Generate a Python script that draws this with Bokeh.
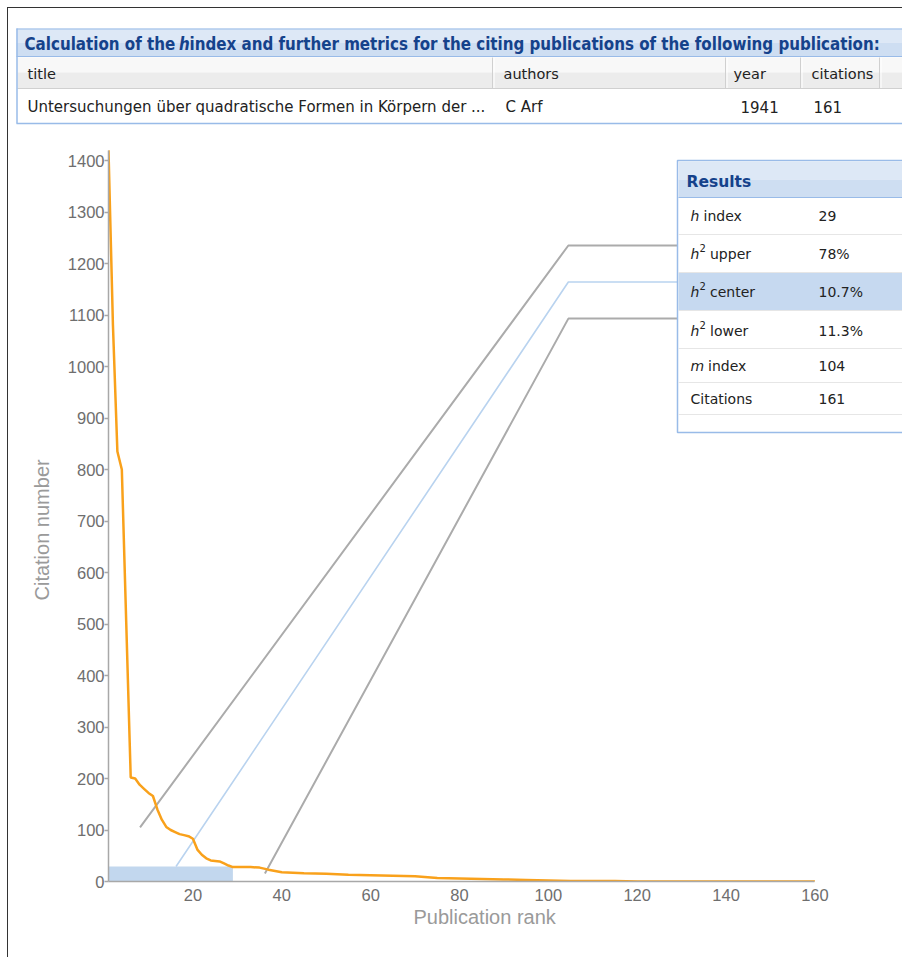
from bokeh.plotting import figure
from bokeh.models import Range1d, FixedTicker, Title, Div, LinearAxis
from bokeh.embed import file_html
from bokeh.resources import INLINE
from bokeh.core.properties import value

# ---------------- data ----------------
ranks = [1, 2, 3, 4, 5, 6, 7, 8, 9, 10, 11, 12, 13, 14, 15, 16, 17, 18, 19, 20,
         21, 22, 23, 24, 25, 26, 27, 28, 29, 30, 33, 35, 37, 40, 45, 50, 55, 60,
         65, 70, 75, 80, 85, 90, 95, 100, 105, 110, 115, 120, 125, 140, 160]
citations = [1420, 1080, 835, 800, 500, 202, 200, 188, 180, 172, 166, 140, 120, 106, 100, 96, 92, 90, 88, 83,
             62, 52, 45, 41, 40, 39, 35, 31, 28, 28, 28, 27, 23, 18, 16, 15, 13, 12,
             11, 10, 7, 6, 5, 4, 3, 2, 1, 1, 1, 0, 0, 0, 0]
h_index = 29

# connector lines (start on chart, corner, end at results panel)
conn_start_x = [8.1, 16.2, 36.2]
conn_start_y = [105, 29, 15.5]
conn_corner_x = [104.5, 104.5, 104.5]
conn_corner_y = [1235, 1164, 1093]
conn_end_x = [129, 129, 129]

x_ticks = [20, 40, 60, 80, 100, 120, 140, 160]
y_ticks = list(range(0, 1401, 100))

table_title_pre = "Calculation of the"
table_title_it = "h"
table_title_post = "index and further metrics for the citing publications of the following publication:"
table_columns = ["title", "authors", "year", "citations"]
pub_row = ["Untersuchungen über quadratische Formen in Körpern der ...", "C Arf", "1941", "161"]

result_italic = ["h", "h", "h", "h", "m", ""]
result_sup = ["", "2", "2", "2", "", ""]
result_rest = ["index", "upper", "center", "lower", "index", "Citations"]
result_values = ["29", "78%", "10.7%", "11.3%", "104", "161"]
highlight_row = 2

# ---------------- styles ----------------
FONT = value("Liberation Sans")
BODY = value("DejaVu Sans")
TF = value("DejaVu Sans Condensed")
BLUE_BORDER = "#99bbe8"
TITLE_BLUE = "#15428b"
ORANGE = "#f9a11b"
TXT = "#222222"

# ---------------- header table (page coordinates) ----------------
hdr = figure(width=902, height=130, x_range=Range1d(0, 902), y_range=Range1d(130, 0),
             toolbar_location=None, output_backend="svg", min_border=0,
             x_axis_location=None, y_axis_location=None, outline_line_color=None)
hdr.grid.visible = False

# title bar
hdr.quad(left=[16], right=[902], top=[28], bottom=[42], fill_color="#dde8f6", line_color=None)
hdr.quad(left=[16], right=[902], top=[42], bottom=[56], fill_color="#cedef2", line_color=None)
hdr.segment(x0=[16], y0=[28.5], x1=[902], y1=[28.5], line_color=BLUE_BORDER, line_width=1)
hdr.segment(x0=[16], y0=[56], x1=[902], y1=[56], line_color=BLUE_BORDER, line_width=1)
hdr.text(x=[24], y=[43], text=[table_title_pre], text_font=TF,
         text_font_style="bold", text_font_size="16.8px", text_color=TITLE_BLUE, text_baseline="middle")
hdr.text(x=[178.5], y=[43], text=[table_title_it], text_font=TF,
         text_font_style="bold italic", text_font_size="16.8px", text_color=TITLE_BLUE, text_baseline="middle")
hdr.text(x=[189], y=[43], text=[table_title_post], text_font=TF,
         text_font_style="bold", text_font_size="16.8px", text_color=TITLE_BLUE, text_baseline="middle")

# column header row
hdr.quad(left=[17], right=[902], top=[57], bottom=[72], fill_color="#f8f8f8", line_color=None)
hdr.quad(left=[17], right=[902], top=[72], bottom=[88], fill_color="#ececec", line_color=None)
sep_x = [492, 725, 800, 879]
hdr.segment(x0=sep_x, y0=[57] * 4, x1=sep_x, y1=[88] * 4, line_color="#d0d0d0", line_width=1)
hdr.segment(x0=[s + 1.5 for s in sep_x], y0=[57] * 4, x1=[s + 1.5 for s in sep_x], y1=[88] * 4,
            line_color="#ffffff", line_width=1)
hdr.segment(x0=[17], y0=[88], x1=[902], y1=[88], line_color="#d0d0d0", line_width=1)
col_x = [27, 503, 733, 811]
hdr.text(x=col_x, y=[73] * 4, text=table_columns, text_font=BODY, text_font_size="14.5px",
         text_color=TXT, text_baseline="middle")
row_x = [27, 505, 740, 813]
hdr.text(x=row_x, y=[106] * 4, text=pub_row, text_font=BODY, text_font_size="15px",
         text_color=TXT, text_baseline="middle")

# outer border
hdr.segment(x0=[16.5], y0=[28], x1=[16.5], y1=[123], line_color=BLUE_BORDER, line_width=1.5)
hdr.segment(x0=[16], y0=[123], x1=[902], y1=[123], line_color=BLUE_BORDER, line_width=1.5)

# ---------------- main chart ----------------
PX_PER_RANK = 4.443
PX_PER_CIT = 0.515
p = figure(width=902, height=832,
           x_range=Range1d(1, 1 + 794 / PX_PER_RANK), y_range=Range1d(0, 743 / PX_PER_CIT),
           min_border_left=108, min_border_right=0, min_border_top=8, min_border_bottom=81,
           toolbar_location=None, output_backend="svg", outline_line_color=None)
p.extra_x_ranges = {"page": Range1d(108, 902)}
p.extra_y_ranges = {"page": Range1d(881, 138)}
p.grid.visible = False

p.xaxis.ticker = FixedTicker(ticks=x_ticks)
p.yaxis.ticker = FixedTicker(ticks=y_ticks)
p.xaxis.bounds = (1, 160)
p.yaxis.bounds = (0, 1420)
for ax in (p.xaxis, p.yaxis):
    ax.axis_line_color = "#a8a8a8"
    ax.axis_line_width = 1.5
    ax.major_tick_line_color = "#a8a8a8"
    ax.major_tick_line_width = 1.5
    ax.minor_tick_line_color = None
    ax.major_tick_in = 0
    ax.major_label_text_font = "Liberation Sans"
    ax.major_label_text_font_size = "16.5px"
    ax.major_label_text_color = "#6e6e6e"
p.xaxis.major_tick_out = 0
p.yaxis.major_tick_out = 4
p.xaxis.major_label_standoff = 7
p.yaxis.major_label_standoff = 0

# empty spacer axis (no ticks, no line) to push the x title down
spacer = LinearAxis(ticker=FixedTicker(ticks=[]), axis_line_color=None,
                    major_tick_line_color=None, minor_tick_line_color=None,
                    major_tick_out=26, major_tick_in=0, minor_tick_out=0, minor_tick_in=0,
                    major_label_standoff=0)
p.add_layout(spacer, "below")

# axis titles
xt = Title(text="Publication rank", align="left", offset=305, standoff=0,
           text_font="Liberation Sans", text_font_size="20px", text_font_style="normal",
           text_color="#9a9a9a")
p.add_layout(xt, "below")
yt = Title(text="Citation number", align="left", offset=281, standoff=24,
           text_font="Liberation Sans", text_font_size="20px", text_font_style="normal",
           text_color="#9a9a9a")
p.add_layout(yt, "left")

# h index square
p.quad(left=[ranks[0]], right=[h_index], bottom=[0], top=[h_index],
       fill_color="#c2d7ee", line_color=None)

# connector lines
xs = [[conn_start_x[i], conn_corner_x[i], conn_end_x[i]] for i in range(3)]
ys = [[conn_start_y[i], conn_corner_y[i], conn_corner_y[i]] for i in range(3)]
p.multi_line(xs=xs, ys=ys, line_color=["#ababab", "#b9d3ef", "#ababab"],
             line_width=[2, 1.6, 2])

# citation curve
p.line(ranks, citations, line_color=ORANGE, line_width=2.5)

# ---------------- results panel (page coordinates) ----------------
R = dict(x_range_name="page", y_range_name="page")
p.quad(left=[677], right=[910], top=[160], bottom=[432], fill_color="#ffffff",
       line_color=BLUE_BORDER, line_width=1.5, **R)
p.quad(left=[678], right=[910], top=[161], bottom=[179], fill_color="#dde8f6", line_color=None, **R)
p.quad(left=[678], right=[910], top=[179], bottom=[197], fill_color="#cedef2", line_color=None, **R)
p.segment(x0=[678], y0=[197], x1=[910], y1=[197], line_color=BLUE_BORDER, line_width=1, **R)
p.text(x=[686], y=[181], text=["Results"], text_font=BODY, text_font_style="bold",
       text_font_size="15.5px", text_color=TITLE_BLUE, text_baseline="middle", **R)

row_centers = [215, 253, 291, 330, 365, 398]
row_edges = [234, 272, 310, 348, 382, 414]
hl_top = row_edges[highlight_row - 1]
hl_bot = row_edges[highlight_row]
p.quad(left=[678], right=[910], top=[hl_top], bottom=[hl_bot], fill_color="#c6d9f0",
       line_color=None, **R)
p.segment(x0=[678] * len(row_edges), y0=row_edges, x1=[910] * len(row_edges), y1=row_edges,
          line_color="#e6e6e6", line_width=1, **R)

ital_x, ital_y, ital_t = [], [], []
sup_x, sup_y, sup_t = [], [], []
rest_x, rest_y, rest_t = [], [], []
for i in range(len(result_rest)):
    cx = 690
    if result_italic[i]:
        ital_x.append(cx); ital_y.append(row_centers[i]); ital_t.append(result_italic[i])
        cx += 13 if result_italic[i] == "m" else 8.5
    if result_sup[i]:
        sup_x.append(cx + 0.5); sup_y.append(row_centers[i] - 6); sup_t.append(result_sup[i])
        cx += 6.5
    if result_italic[i]:
        cx += 4.5
    rest_x.append(cx); rest_y.append(row_centers[i]); rest_t.append(result_rest[i])
p.text(x=ital_x, y=ital_y, text=ital_t, text_font=BODY, text_font_style="italic",
       text_font_size="14px", text_color=TXT, text_baseline="middle", **R)
p.text(x=sup_x, y=sup_y, text=sup_t, text_font=BODY, text_font_size="10px",
       text_color=TXT, text_baseline="middle", **R)
p.text(x=rest_x, y=rest_y, text=rest_t, text_font=BODY, text_font_size="14px",
       text_color=TXT, text_baseline="middle", **R)
p.text(x=[818] * len(result_values), y=row_centers, text=result_values, text_font=BODY,
       text_font_size="14px", text_color=TXT, text_baseline="middle", **R)

# dark frame line of the screenshot (left and top edges)
frame_div = Div(text="", width=897, height=950,
                styles={"position": "absolute", "left": "2px", "top": "2px",
                        "border-left": "1.5px solid #333333", "border-top": "1.5px solid #333333",
                        "pointer-events": "none"})

open("out.html", "w").write(file_html([hdr, p, frame_div], INLINE))
